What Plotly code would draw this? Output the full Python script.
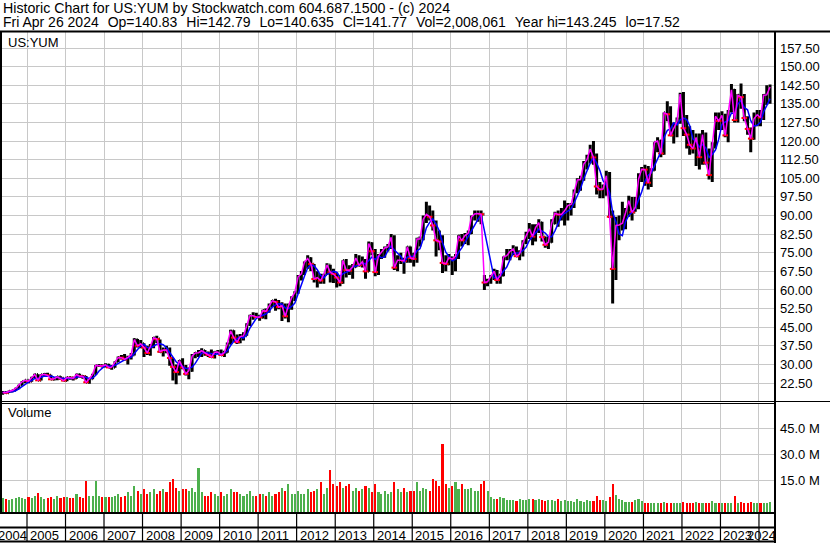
import pandas as pd
import plotly.graph_objects as go

W, H = 830, 543

# ---------------- data (monthly, May 2004 .. Apr 2024) ----------------
hi = [
    19.3, 19.0, 19.5, 19.8, 20.6, 21.8, 23.3, 23.8,                      # 2004
    23.8, 25.0, 26.2, 26.0, 26.0, 26.5, 26.6, 25.8, 24.7, 25.2, 25.2, 24.5,  # 2005
    25.0, 25.0, 24.8, 26.2, 26.2, 25.6, 25.3, 24.5, 26.2, 29.8, 30.2, 30.0,  # 2006
    30.5, 30.3, 29.8, 31.3, 33.2, 33.8, 34.2, 33.5, 34.6, 40.5, 40.2, 39.8,  # 2007
    38.5, 37.5, 38.2, 41.0, 41.5, 40.0, 36.8, 37.5, 36.8, 32.5, 30.0, 31.8,  # 2008
    32.5, 29.8, 28.8, 34.2, 35.0, 35.8, 36.5, 35.8, 35.2, 36.0, 35.3, 35.8,  # 2009
    36.0, 35.5, 38.8, 44.0, 43.8, 42.0, 42.2, 43.0, 46.6, 50.0, 51.0, 50.8,  # 2010
    50.0, 52.0, 52.5, 54.5, 56.0, 56.5, 56.0, 55.0, 54.5, 54.5, 57.5, 59.5,  # 2011
    66.0, 67.6, 71.5, 74.0, 73.2, 70.5, 67.5, 66.5, 66.5, 70.8, 70.2, 68.5,  # 2012
    67.0, 66.0, 72.0, 72.5, 70.0, 70.5, 74.5, 74.0, 73.5, 72.5, 79.5, 79.2,  # 2013
    76.5, 74.5, 76.5, 77.5, 78.5, 82.5, 82.0, 74.0, 75.0, 73.0, 77.5, 77.5,  # 2014
    75.0, 81.0, 81.5, 90.0, 95.5, 94.0, 92.0, 88.0, 84.0, 82.0, 74.0, 74.5,  # 2015
    73.5, 74.5, 82.0, 82.5, 83.0, 84.0, 90.0, 92.0, 92.0, 92.0, 66.0, 64.5,  # 2016
    66.0, 68.5, 68.0, 66.5, 73.5, 76.5, 76.5, 78.0, 77.5, 76.0, 80.0, 83.5,  # 2017
    87.0, 86.5, 86.5, 88.5, 87.5, 81.5, 81.5, 88.5, 91.5, 92.0, 93.0, 96.0,  # 2018
    95.0, 95.0, 100.5, 105.0, 106.0, 112.0, 114.5, 118.5, 120.0, 115.0, 103.5, 102.5,  # 2019
    108.0, 107.5, 92.0, 89.5, 90.0, 95.5, 93.0, 98.0, 97.5, 97.5, 107.0, 109.5,  # 2020
    110.5, 110.0, 109.0, 119.5, 121.5, 120.5, 131.5, 136.0, 134.0, 127.5, 129.5, 139.5,  # 2021
    139.8, 130.5, 126.0, 124.5, 123.0, 123.0, 124.5, 123.5, 117.0, 119.5, 131.5, 131.5,  # 2022
    132.0, 131.0, 132.5, 143.0, 141.0, 139.0, 143.2, 139.0, 130.0, 125.5, 131.5, 132.5,  # 2023
    132.5, 139.0, 142.5, 142.8,                                            # 2024
]
lo = [
    17.8, 18.2, 18.5, 18.8, 19.3, 20.0, 21.5, 22.5,
    22.4, 23.0, 24.5, 23.5, 23.5, 25.0, 25.2, 23.8, 23.5, 23.6, 23.8, 23.2,
    23.2, 23.8, 23.5, 24.2, 24.8, 24.2, 22.5, 22.2, 24.0, 25.8, 29.0, 28.8,
    28.8, 28.5, 27.8, 28.6, 31.0, 32.0, 31.8, 30.0, 32.0, 33.6, 36.8, 36.5,
    33.0, 33.8, 33.5, 36.5, 38.6, 34.6, 33.2, 34.5, 29.5, 23.5, 22.0, 25.5,
    28.0, 25.5, 24.0, 27.0, 32.5, 33.0, 33.0, 33.5, 33.0, 32.8, 32.4, 34.2,
    33.4, 33.0, 34.7, 38.0, 39.0, 38.2, 38.5, 39.6, 41.5, 45.5, 48.0, 48.8,
    47.6, 48.5, 48.2, 50.8, 53.0, 51.6, 52.2, 47.5, 48.5, 47.0, 52.0, 55.5,
    58.5, 63.8, 66.0, 68.5, 67.6, 63.0, 61.0, 62.5, 62.5, 66.0, 63.0, 62.8,
    61.0, 61.5, 62.5, 65.0, 66.0, 64.5, 69.0, 69.5, 69.0, 64.5, 67.3, 74.0,
    65.5, 66.0, 72.5, 73.0, 75.5, 76.5, 68.0, 67.5, 70.5, 66.5, 71.0, 71.0,
    69.5, 71.0, 77.5, 80.0, 87.0, 88.0, 84.0, 73.5, 76.0, 66.8, 67.5, 70.0,
    66.0, 67.5, 72.5, 77.5, 78.5, 78.0, 82.5, 88.0, 87.5, 86.5, 60.0, 61.5,
    62.5, 64.0, 62.5, 62.5, 65.5, 72.0, 72.0, 74.0, 73.5, 72.0, 73.5, 78.5,
    80.5, 78.0, 79.5, 83.0, 79.5, 77.0, 76.5, 79.0, 86.5, 85.5, 88.0, 86.0,
    88.0, 90.0, 93.0, 99.0, 100.0, 104.0, 108.5, 111.0, 110.5, 98.5, 97.0, 97.0,
    98.0, 89.0, 54.5, 64.0, 80.0, 84.0, 84.5, 89.5, 88.0, 91.5, 92.5, 103.5,
    102.0, 100.5, 101.5, 108.0, 115.5, 113.5, 114.5, 128.0, 122.0, 119.0, 121.5, 127.0,
    122.0, 117.0, 114.5, 115.0, 110.0, 108.5, 110.5, 110.5, 104.5, 103.5, 117.0, 124.5,
    124.5, 121.5, 119.5, 131.5, 127.5, 127.5, 133.0, 128.0, 122.5, 115.5, 120.5, 126.0,
    126.0, 128.5, 134.5, 135.0,
]
cl = [
    18.7, 18.6, 19.2, 19.5, 20.3, 21.7, 23.0, 23.6,
    23.2, 24.6, 25.9, 23.6, 25.8, 26.0, 25.6, 24.0, 24.2, 25.0, 24.4, 23.5,
    24.7, 24.6, 24.4, 25.9, 25.2, 25.1, 22.8, 24.2, 26.0, 29.6, 29.6, 29.4,
    29.8, 28.8, 28.9, 31.0, 32.8, 32.7, 32.0, 32.8, 33.8, 40.0, 37.5, 38.3,
    36.8, 34.6, 37.2, 40.7, 40.2, 35.1, 35.8, 35.7, 32.6, 29.0, 26.9, 31.5,
    28.8, 26.2, 27.5, 33.3, 34.6, 34.7, 35.5, 34.5, 33.8, 33.0, 34.9, 35.0,
    33.8, 34.8, 38.3, 43.5, 40.8, 39.0, 41.2, 41.5, 46.1, 49.6, 49.6, 49.1,
    49.0, 51.7, 51.4, 53.7, 55.6, 55.2, 53.1, 53.6, 49.4, 53.6, 56.9, 59.0,
    65.3, 66.5, 71.2, 72.7, 70.4, 64.4, 65.0, 63.8, 66.3, 70.1, 67.1, 66.4,
    65.0, 63.0, 71.9, 68.0, 67.8, 69.3, 72.9, 70.0, 71.4, 67.5, 78.7, 75.6,
    67.2, 73.7, 75.4, 76.9, 77.3, 81.2, 69.0, 72.0, 72.0, 71.7, 77.3, 72.9,
    72.5, 80.5, 80.5, 88.5, 90.5, 89.5, 86.0, 80.0, 79.5, 70.9, 70.5, 73.0,
    72.5, 73.5, 81.8, 80.0, 81.9, 82.9, 89.4, 90.6, 90.8, 90.5, 63.0, 63.3,
    65.5, 67.5, 64.0, 65.8, 73.3, 73.8, 75.5, 76.5, 73.6, 74.5, 79.0, 81.6,
    84.6, 81.5, 85.1, 87.1, 81.3, 78.2, 79.3, 86.9, 90.9, 90.4, 90.4, 91.9,
    94.0, 94.5, 99.8, 104.3, 104.5, 110.7, 112.5, 116.8, 113.4, 101.7, 100.5, 100.7,
    106.0, 89.5, 68.5, 86.0, 86.2, 86.9, 91.1, 96.0, 91.3, 93.3, 104.6, 108.6,
    108.5, 103.2, 108.2, 119.5, 120.0, 115.0, 131.4, 130.8, 122.3, 124.9, 128.0, 138.9,
    125.2, 122.6, 118.5, 117.0, 121.5, 113.5, 122.6, 111.3, 106.3, 118.3, 130.0, 128.1,
    130.4, 122.3, 132.1, 140.6, 128.5, 138.5, 137.7, 129.3, 124.9, 121.0, 129.0, 130.6,
    129.5, 138.5, 138.6, 141.8,
]
# volume, millions of shares (visible height of the daily spikes each month)
vol_m = [
    5, 4.5, 4, 4.5, 5, 5.5, 5, 4.5,
    5.5, 5, 6, 8, 5.5, 4.5, 5, 5.5, 4.5, 6.5, 5, 5.5,
    5.5, 5, 5, 7.5, 5.5, 5, 15, 6.5, 6.5, 15, 6.5, 5.5,
    5.5, 5.5, 5.5, 6.5, 7.5, 5.5, 6.5, 8.5, 6.5, 12, 9, 7.5,
    10, 7.5, 8.5, 10, 7.5, 9, 10, 8.5, 14, 16, 11, 9,
    10, 10, 9, 11, 8.5, 22, 8.5, 6.5, 6.5, 8.5, 7.5, 6.5,
    8.5, 6.5, 7.5, 10, 8.5, 8.5, 7.5, 6.5, 7.5, 9, 6.5, 6.5,
    7.5, 7.5, 6.5, 8.5, 6.5, 7.5, 8.5, 11, 9, 13, 7.5, 7.5,
    9, 7.5, 7.5, 10, 8.5, 9, 10, 14, 7.5, 11, 21, 13,
    12, 14, 11, 12, 13, 9, 11, 9, 10, 12, 11, 8.5,
    13, 8.5, 7.5, 9, 7.5, 8.5, 14, 10, 8.5, 11, 8.5, 9,
    9, 14, 9, 11, 10, 9, 16, 15, 12, 36, 13, 11,
    12, 14, 10, 13, 10, 10, 11, 9, 9, 13, 15, 9,
    5.5, 4.5, 4.5, 5.5, 5, 4, 4, 4, 3.5, 4.5, 4, 4,
    4.5, 4.5, 4, 4.5, 4, 3.5, 4, 4, 3.5, 4.5, 3.5, 4,
    3.5, 3.5, 3, 4.5, 3.5, 3, 4, 3.5, 3.5, 6.5, 4, 4,
    3.5, 5.5, 13, 7, 4.5, 4, 3, 3, 3, 4, 4.5, 3.5,
    2.5, 2, 2, 2.5, 2, 2, 3, 2, 2.5, 2, 2, 2.5,
    3, 2.5, 2, 2, 3, 2.5, 2, 2, 2.5, 3.5, 2.5, 2,
    2, 2.5, 2, 2, 6.5, 2, 3, 2.5, 2, 3, 2, 2,
    2, 2.5, 2, 3,
]
price_ticks = [22.5 + 7.5 * i for i in range(19)]
vol_ticks = [15e6, 30e6, 45e6]
vol_tick_text = ["15.0 M", "30.0 M", "45.0 M"]
years = list(range(2004, 2025))
header1 = "Historic Chart for US:YUM by Stockwatch.com 604.687.1500 - (c) 2024"
header2_parts = ["Fri Apr 26 2024", "Op=140.83", "Hi=142.79", "Lo=140.635",
                 "Cl=141.77", "Vol=2,008,061", "Year hi=143.245", "lo=17.52"]

# ---------------- derived series ----------------
dates = pd.date_range("2004-05-01", periods=len(cl), freq="MS") + pd.Timedelta(days=14)
op = [cl[0]] + cl[:-1]
down = [c < o for c, o in zip(cl, op)]
ma_slow = pd.Series(cl).rolling(4, min_periods=1).mean().tolist()

X0, X1 = pd.Timestamp("2004-04-20"), pd.Timestamp("2024-06-01")
VMIN, VMAX = -3.46e6, 59.4e6
vol = [v * 1e6 for v in vol_m]

def py(p):  # pixel row -> paper y
    return 1 - p / H

def px(p):
    return p / W

RIGHT = 775
FONT = "Liberation Sans, Arial, sans-serif"
GRID = "#C8C8C8"

fig = go.Figure()
fig.add_trace(go.Ohlc(
    x=dates, open=op, high=hi, low=lo, close=cl,
    increasing=dict(line=dict(color="black", width=3)),
    decreasing=dict(line=dict(color="black", width=3)),
    tickwidth=0.3, hoverinfo="skip", xaxis="x", yaxis="y",
))
fig.add_trace(go.Scatter(
    x=[d for d, f in zip(dates, down) if f], y=[c for c, f in zip(cl, down) if f],
    mode="markers", marker=dict(symbol="line-ew", size=4, line=dict(color="red", width=2)),
    hoverinfo="skip", xaxis="x", yaxis="y",
))
fig.add_trace(go.Scatter(x=dates, y=ma_slow, mode="lines",
                         line=dict(color="#0000FF", width=1.5), hoverinfo="skip",
                         xaxis="x", yaxis="y"))
fig.add_trace(go.Scatter(x=dates, y=cl, mode="lines",
                         line=dict(color="#FF00FF", width=1.5), hoverinfo="skip",
                         xaxis="x", yaxis="y"))
fig.add_trace(go.Bar(
    x=dates, y=[v - VMIN for v in vol], base=VMIN,
    marker=dict(color=["#FF0000" if f else "#4DB04D" for f in down], line=dict(width=0)),
    width=20 * 86400000, hoverinfo="skip", xaxis="x2", yaxis="y2",
))

xcommon = dict(type="date", range=[X0, X1], domain=[0, px(RIGHT)],
               showticklabels=False, ticks="", tick0="2005-01-01", dtick="M12",
               showgrid=True, gridcolor=GRID, gridwidth=1, zeroline=False, showline=False)
ycommon = dict(side="right", ticks="", showgrid=True, gridcolor=GRID, gridwidth=1,
               zeroline=False, showline=False, ticklabelstandoff=4,
               tickfont=dict(family=FONT, size=13, color="black"))

fig.update_layout(
    width=W, height=H, margin=dict(l=0, r=0, t=0, b=0),
    paper_bgcolor="white", plot_bgcolor="white", showlegend=False, bargap=0,
    font=dict(family=FONT, size=13, color="black"),
    xaxis=dict(**xcommon, anchor="y", rangeslider=dict(visible=False)),
    xaxis2=dict(**xcommon, anchor="y2", matches="x"),
    yaxis=dict(**ycommon, domain=[py(401), py(32)], range=[15.25, 163.95],
               tickvals=price_ticks, ticktext=[f"{t:.2f}" for t in price_ticks], anchor="x"),
    yaxis2=dict(**ycommon, domain=[py(513), py(403)], range=[VMIN, VMAX],
                tickvals=vol_ticks, ticktext=vol_tick_text, anchor="x2"),
)

shapes = []
def hline(y, x0, x1, w):
    shapes.append(dict(type="line", xref="paper", yref="paper", x0=px(x0), x1=px(x1),
                       y0=py(y), y1=py(y), line=dict(color="black", width=w)))
def vline(x, y0, y1, w):
    shapes.append(dict(type="line", xref="paper", yref="paper", x0=px(x), x1=px(x),
                       y0=py(y0), y1=py(y1), line=dict(color="black", width=w)))

hline(31.5, 0, W, 2)
vline(1, 31, 513, 2)
vline(RIGHT, 31, H, 2)
hline(401.5, 0, W, 1)
hline(403.5, 0, RIGHT, 1)
hline(513, 0, RIGHT, 2)
hline(527.5, 0, RIGHT, 2)
hline(541.5, 0, RIGHT, 2)
for y in years[1:]:
    shapes.append(dict(type="line", xref="x2", yref="paper",
                       x0=pd.Timestamp(f"{y}-01-01"), x1=pd.Timestamp(f"{y}-01-01"),
                       y0=py(513), y1=py(541), line=dict(color="black", width=1.2)))
fig.update_layout(shapes=shapes)

ann = []
def text(x, y, s, size=13):
    ann.append(dict(xref="paper", yref="paper", x=px(x), y=py(y), text=s,
                    xanchor="left", yanchor="middle", showarrow=False,
                    font=dict(family=FONT, size=size, color="black")))

sp = "\u00a0\u00a0\u200a"
text(1, 7.5, header1, 14.2)
text(1, 22.5, sp.join(header2_parts), 14)
text(6, 42, "US:YUM")
text(6, 413, "Volume")

for i, y in enumerate(years):
    if i == 0:
        xv, anchor, shift = X0, "left", -4
    elif y == years[-1]:
        xv, anchor, shift = X1, "right", 3
    else:
        xv, anchor, shift = pd.Timestamp(f"{y}-01-01"), "left", 1
    ann.append(dict(xref="x2", yref="paper", x=xv, y=py(535), text=str(y),
                    xanchor=anchor, xshift=shift, yanchor="middle", showarrow=False,
                    font=dict(family=FONT, size=13, color="black")))
fig.update_layout(annotations=ann)

fig.write_html("out.html", config={"displayModeBar": False},
               post_script="document.body.style.margin='0px';document.body.style.overflow='hidden';")
